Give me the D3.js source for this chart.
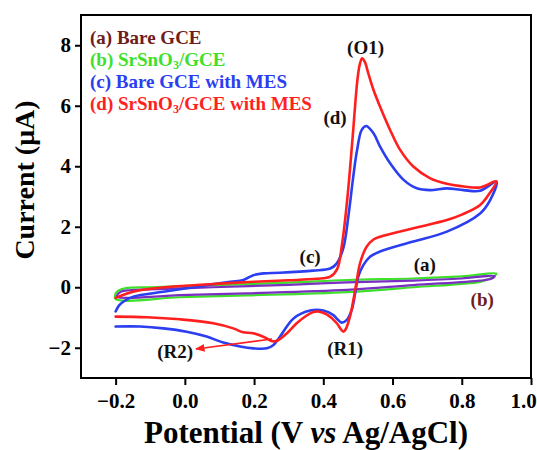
<!DOCTYPE html>
<html>
<head>
<meta charset="utf-8">
<script src="https://cdn.jsdelivr.net/npm/d3@7/dist/d3.min.js"></script>
<style>
  html, body { margin: 0; padding: 0; background: #fff; }
  svg { display: block; }
  text { font-family: "Liberation Serif", "DejaVu Serif", serif; font-weight: bold; }
</style>
</head>
<body>
<svg id="chart" width="537" height="450"></svg>
<script>
// ---------- DATA ----------
const xTicks = [-0.2, 0.0, 0.2, 0.4, 0.6, 0.8, 1.0];
const yTicks = [-2, 0, 2, 4, 6, 8];

// (a) Bare GCE
const aE = [-0.195, -0.185, -0.16, -0.1, 0.08, 0.3, 0.468, 0.66, 0.8, 0.895, 0.885, 0.853, 0.66, 0.468, 0.179, -0.014, -0.195, -0.195];
const aI = [-0.25, -0.15, -0.1, -0.07, 0.0, 0.08, 0.16, 0.22, 0.29, 0.37, 0.28, 0.22, 0.07, -0.09, -0.2, -0.26, -0.32, -0.25];
// (b) SrSnO3/GCE
const bE = [-0.2, -0.19, -0.17, -0.1, 0.082, 0.3, 0.468, 0.66, 0.8, 0.9, 0.895, 0.88, 0.853, 0.66, 0.468, 0.179, -0.014, -0.2, -0.2];
const bI = [-0.2, -0.1, -0.03, 0.0, 0.07, 0.15, 0.24, 0.29, 0.36, 0.45, 0.38, 0.28, 0.18, 0.0, -0.16, -0.27, -0.33, -0.39, -0.2];
// (c) Bare GCE with MES
const cE = [-0.2, -0.19, -0.178, -0.149, -0.062, 0.034, 0.131, 0.169, 0.198, 0.227, 0.275, 0.371, 0.42, 0.439, 0.458, 0.473, 0.487, 0.497, 0.511, 0.524, 0.545, 0.564, 0.593, 0.632, 0.67, 0.709, 0.757, 0.805, 0.853, 0.9,
            0.882, 0.853, 0.757, 0.66, 0.564, 0.535, 0.516, 0.501, 0.492, 0.482, 0.468, 0.453, 0.44, 0.429, 0.4, 0.362, 0.314, 0.275, 0.256, 0.237, 0.198, 0.16, 0.111, 0.063, 0.005, -0.062, -0.129, -0.2];
const cI = [-0.8, -0.6, -0.48, -0.31, -0.15, 0.02, 0.18, 0.24, 0.40, 0.46, 0.48, 0.55, 0.62, 0.79, 1.3, 2.4, 3.7, 4.5, 5.2, 5.33, 5.09, 4.65, 4.10, 3.55, 3.27, 3.21, 3.27, 3.21, 3.19, 3.49,
            2.88, 2.44, 1.84, 1.51, 1.18, 1.01, 0.74, 0.35, -0.2, -0.75, -1.08, -1.17, -1.05, -0.92, -0.77, -0.77, -1.03, -1.63, -1.91, -2.02, -2.02, -1.96, -1.83, -1.63, -1.47, -1.36, -1.30, -1.30];
// (d) SrSnO3/GCE with MES
const dE = [-0.2, -0.15, -0.1, 0.0, 0.1, 0.2, 0.3, 0.38, 0.42, 0.44, 0.455, 0.47, 0.485, 0.498, 0.505, 0.512, 0.52, 0.53, 0.545, 0.564, 0.593, 0.622, 0.66, 0.709, 0.757, 0.806, 0.853, 0.9,
            0.88, 0.853, 0.8, 0.757, 0.66, 0.564, 0.545, 0.525, 0.506, 0.497, 0.487, 0.477, 0.465, 0.458, 0.45, 0.439, 0.41, 0.385, 0.371, 0.35, 0.323, 0.295, 0.266, 0.25, 0.237, 0.197, 0.168, 0.14, 0.082, -0.014, -0.11, -0.2];
const dI = [-0.35, -0.15, -0.05, 0.05, 0.12, 0.18, 0.23, 0.28, 0.35, 0.6, 1.5, 3.0, 5.0, 6.8, 7.35, 7.57, 7.45, 7.07, 6.52, 5.97, 5.2, 4.54, 3.99, 3.6, 3.42, 3.33, 3.3, 3.5,
            3.1, 2.72, 2.4, 2.22, 1.95, 1.67, 1.58, 1.34, 0.79, 0.24, -0.42, -0.97, -1.38, -1.47, -1.38, -1.19, -0.9, -0.8, -0.82, -0.95, -1.19, -1.52, -1.77, -1.78, -1.69, -1.52, -1.49, -1.36, -1.19, -1.06, -0.99, -0.97];

const seriesNames = ["(a) Bare GCE", "(b) SrSnO3/GCE", "(c) Bare GCE with MES", "(d) SrSnO3/GCE with MES"];
const labelTexts = ["(O1)", "(d)", "(c)", "(a)", "(b)", "(R1)", "(R2)"];
const labelE = [0.522, 0.434, 0.362, 0.693, 0.859, 0.463, -0.028];
const labelI = [7.94, 5.61, 1.03, 0.74, -0.42, -2.04, -2.11];
const arrowE = [0.252, 0.032];
const arrowI = [-1.71, -2.04];

// ---------- LAYOUT ----------
const W = 537, H = 450;
const margin = { left: 81, top: 15, right: 6, bottom: 72 };
const iw = W - margin.left - margin.right;
const ih = H - margin.top - margin.bottom;

const svg = d3.select("#chart");
const g = svg.append("g").attr("transform", `translate(${margin.left},${margin.top})`);

const x = d3.scaleLinear().domain([-0.3, 1.0]).range([0, iw]);
const y = d3.scaleLinear().domain([-3, 9]).range([ih, 0]);

const lineColors = { a: "#7a2fc2", b: "#3fe02a", c: "#2b3ef0", d: "#ff1f1f" };
const legendColors = ["#6e1c1c", "#3fe02a", "#2b3ef0", "#ff1f1f"];

// axes
const xAxis = d3.axisBottom(x).tickValues(xTicks).tickFormat(d3.format(".1f")).tickSize(7).tickPadding(8);
const yAxis = d3.axisLeft(y).tickValues(yTicks).tickFormat(d3.format("d")).tickSize(6).tickPadding(4);

const gx = g.append("g").attr("transform", `translate(0,${ih})`).call(xAxis);
const gy = g.append("g").call(yAxis);
[gx, gy].forEach(a => {
  a.select(".domain").remove();
  a.selectAll(".tick line").attr("stroke", "#000").attr("stroke-width", 2);
  a.selectAll(".tick text").attr("fill", "#000").style("font-size", "21px")
    .style("font-family", "'Liberation Serif', serif").style("font-weight", "bold");
});
// keep the last x label inside the picture, as in the reference
gx.selectAll(".tick text").filter(d => d === 1.0).attr("dx", -8);

// curves
const line = d3.line().x(d => x(d[0])).y(d => y(d[1])).curve(d3.curveCatmullRom.alpha(0.5));
const zip = (E, I) => E.map((e, i) => [e, I[i]]);

const curves = [
  { key: "b", pts: zip(bE, bI), w: 2.2 },
  { key: "a", pts: zip(aE, aI), w: 2.2 },
  { key: "c", pts: zip(cE, cI), w: 2.6 },
  { key: "d", pts: zip(dE, dI), w: 2.6 }
];
const plot = g.append("g");
curves.forEach(c => {
  plot.append("path").datum(c.pts).attr("d", line)
    .attr("fill", "none").attr("stroke", lineColors[c.key])
    .attr("stroke-width", c.w).attr("stroke-linejoin", "round").attr("stroke-linecap", "round");
});

// frame
g.append("rect").attr("x", 0).attr("y", 0).attr("width", iw).attr("height", ih)
  .attr("fill", "none").attr("stroke", "#000").attr("stroke-width", 2);

// arrow
svg.append("defs").append("marker").attr("id", "arr")
  .attr("viewBox", "0 0 10 10").attr("refX", 9).attr("refY", 5)
  .attr("markerWidth", 6).attr("markerHeight", 6).attr("orient", "auto")
  .append("path").attr("d", "M0,1 L10,5 L0,9 Z").attr("fill", "#ff1f1f");
g.append("line")
  .attr("x1", x(arrowE[0])).attr("y1", y(arrowI[0]))
  .attr("x2", x(arrowE[1])).attr("y2", y(arrowI[1]))
  .attr("stroke", "#ff1f1f").attr("stroke-width", 1.6).attr("marker-end", "url(#arr)");

// annotation labels
labelTexts.forEach((t, i) => {
  g.append("text").attr("x", x(labelE[i])).attr("y", y(labelI[i]))
    .attr("text-anchor", "middle").attr("dominant-baseline", "central")
    .style("font-size", "19px")
    .attr("fill", t === "(b)" ? "#6e1c1c" : "#111")
    .text(t);
});

// legend
const legend = g.append("g").attr("transform", "translate(9,29)");
seriesNames.forEach((name, i) => {
  const txt = legend.append("text").attr("x", 0).attr("y", i * 22)
    .style("font-size", "19px").attr("fill", legendColors[i]);
  const m = name.match(/^(.*SrSnO)3(.*)$/);
  if (m) {
    txt.append("tspan").text(m[1]);
    txt.append("tspan").attr("dy", 3).style("font-size", "12px").text("3");
    txt.append("tspan").attr("dy", -3).text(m[2]);
  } else {
    txt.text(name);
  }
});

// axis titles
const xt = svg.append("text").attr("x", margin.left + iw / 2).attr("y", 443)
  .attr("text-anchor", "middle").style("font-size", "31px").attr("fill", "#000");
xt.append("tspan").text("Potential (V ");
xt.append("tspan").style("font-style", "italic").text("vs");
xt.append("tspan").text(" Ag/AgCl)");
svg.append("text").attr("transform", "translate(34,180) rotate(-90)")
  .attr("text-anchor", "middle").style("font-size", "28px").attr("fill", "#000")
  .text("Current (μA)");
</script>
</body>
</html>
